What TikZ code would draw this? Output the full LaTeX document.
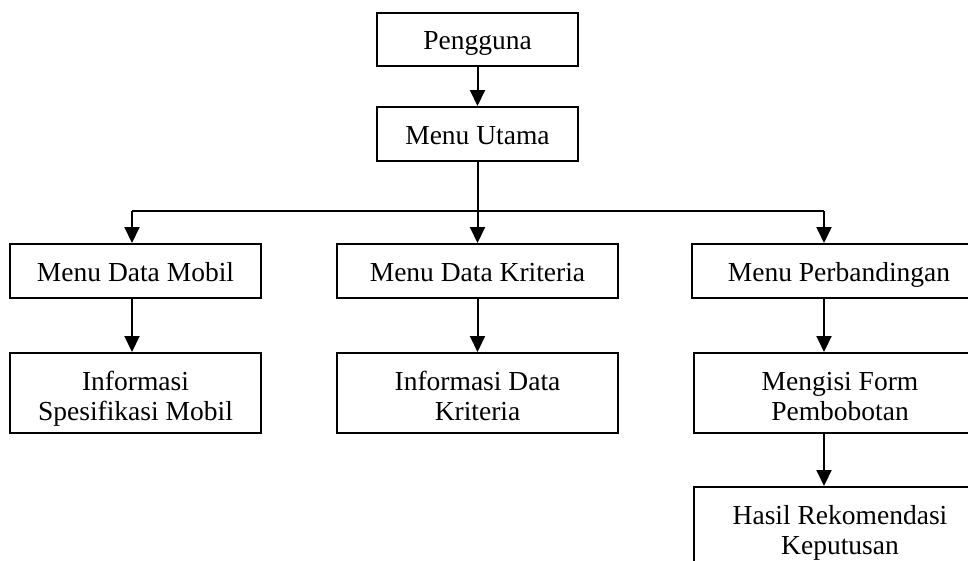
\documentclass[tikz,border=0pt]{standalone}
\usepackage{fontspec}
\setmainfont{Liberation Serif}
\usetikzlibrary{arrows.meta}
\newcommand\boxstrut{\rule[-10pt]{0pt}{40pt}}
\tikzset{
    menubox/.style={draw, line width=2pt, align=center, inner sep=0pt,
        font=\fontsize{27.5}{30}\selectfont,
        execute at begin node=\boxstrut, execute at end node=\boxstrut},
    infobox/.style={draw, line width=2pt, align=center, inner sep=0pt,
        font=\fontsize{27.5}{30}\selectfont, minimum height=80pt,
        text height=60pt, text depth=6pt},
    link/.style={line width=2pt},
    arrow/.style={link, -{Triangle[length=16pt,width=15pt]}}
}
\begin{document}
\begin{tikzpicture}[x=1pt,y=-1pt]
        \path[use as bounding box, clip] (0,0) rectangle (968,560);
        % top
        \node[menubox, minimum width=201pt, minimum height=53pt] (user) at (477.5,39.5) {Pengguna};
        \node[menubox, minimum width=201pt, minimum height=54pt] (utama) at (477.5,134) {Menu Utama};
        % menus
        \node[menubox, minimum width=251pt, minimum height=54pt] (mobil) at (135.5,271) {Menu Data Mobil};
        \node[menubox, minimum width=281pt, minimum height=54pt] (kriteria) at (477.5,271) {Menu Data Kriteria};
        \node[menubox, minimum width=294pt, minimum height=54pt] (banding) at (839,271) {Menu Perbandingan};
        % informasi
        \node[infobox, minimum width=251pt] (infomobil) at (135.5,393) {Informasi\\Spesifikasi Mobil};
        \node[infobox, minimum width=281pt] (infokriteria) at (477.5,393) {Informasi Data\\Kriteria};
        \node[infobox, minimum width=292pt] (form) at (840,393) {Mengisi Form\\Pembobotan};
        \node[infobox, minimum width=292pt] (hasil) at (840,527) {Hasil Rekomendasi\\Keputusan};
        % bus
        \coordinate (busL) at (132,211);
        \coordinate (busR) at (824,211);
        \draw[arrow] (user) -- (utama);
        \draw[arrow] (utama) -- (kriteria);
        \draw[link] (busL) -- (busR);
        \draw[arrow] (busL) -- (busL |- mobil.north);
        \draw[arrow] (busR) -- (busR |- banding.north);
        \draw[arrow] (busL |- mobil.south) -- (busL |- infomobil.north);
        \draw[arrow] (kriteria) -- (infokriteria);
        \draw[arrow] (busR |- banding.south) -- (busR |- form.north);
        \draw[arrow] (busR |- form.south) -- (busR |- hasil.north);
    \end{tikzpicture}
\end{document}
